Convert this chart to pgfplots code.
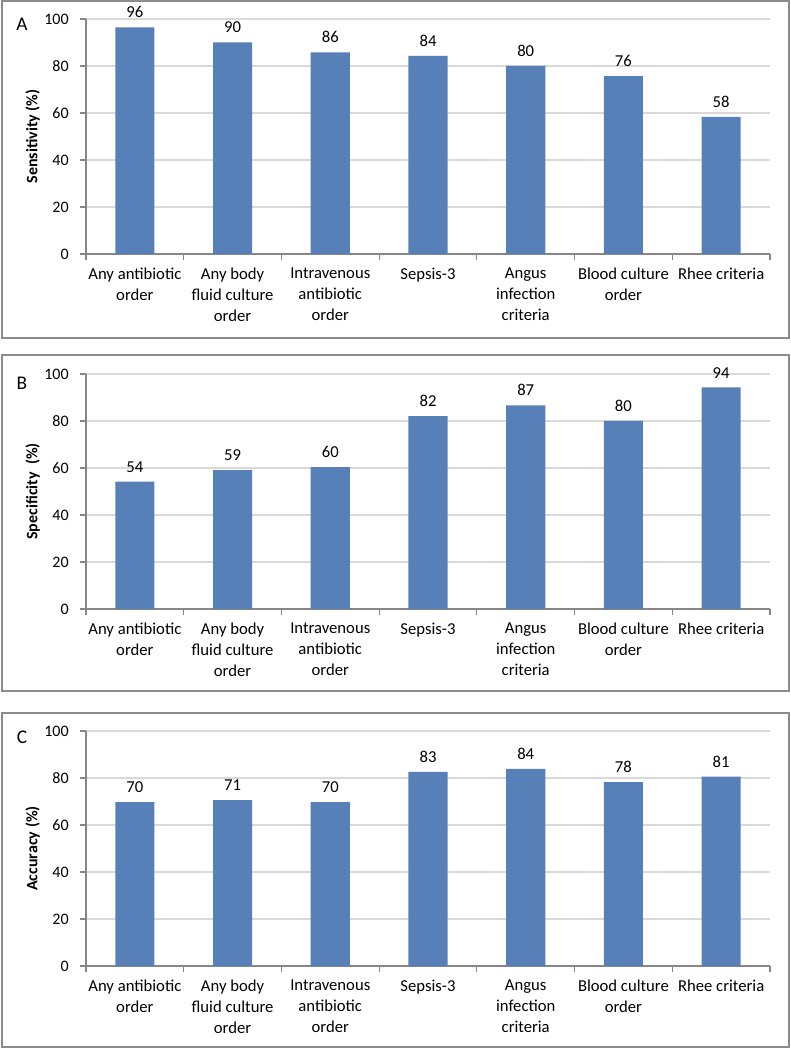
\documentclass[border=0pt]{standalone}
\usepackage{fontspec}
\setmainfont{Carlito}
\usepackage{pgfplots}
\pgfplotsset{compat=1.18}
\definecolor{barblue}{RGB}{88,128,184}
\definecolor{gridgray}{RGB}{217,217,217}
\definecolor{axgray}{RGB}{134,134,134}
\definecolor{boxgray}{RGB}{140,140,140}
\pgfplotsset{
  /pgf/number format/assume math mode=true,
  panel/.style={
    scale only axis, width=513pt, height=176.25pt,
    anchor=south west,
    xmin=-0.5, xmax=6.5, ymin=0, ymax=100,
    ytick={0,20,...,100},
    xtick={-0.5,0.5,...,6.5},
    xticklabels={},
    extra x ticks={0,1,2,3,4,5,6},
    extra x tick labels={{Any antibiotic\\order},{Any body\\fluid culture\\order},{Intravenous\\antibiotic\\order},{Sepsis-3},{Angus\\infection\\criteria},{Blood culture\\order},{Rhee criteria}},
    extra x tick style={major tick length=0pt},
    axis lines*=left,
    axis line style={axgray, line width=0.8pt},
    tick style={axgray, line width=0.8pt},
    tick align=outside,
    major tick length=4.5pt,
    ymajorgrids,
    major grid style={gridgray, line width=0.8pt},
    x tick label style={align=center, font=\fontsize{12.5}{15.75}\selectfont, yshift=-7pt},
    y tick label style={font=\fontsize{12}{14}\selectfont, xshift=-5pt},
    every axis y label/.style={at={(axis description cs:-0.078,0.5)}, rotate=90, anchor=center, font=\fontsize{12}{14}\selectfont\bfseries},
    ybar, bar width=0.4,
    nodes near coords={\pgfmathprintnumber[fixed,precision=0]{\pgfplotspointmeta}},
    nodes near coords style={font=\fontsize{12.5}{14}\selectfont, anchor=south, yshift=3.5pt},
  }
}
\begin{document}
\begin{tikzpicture}
\useasboundingbox (0,0) rectangle (593.25pt,787.5pt);
\draw[boxgray, line width=1pt] (1.5pt,534pt) rectangle (591.75pt,786.75pt);
\draw[boxgray, line width=1pt] (1.5pt,269.25pt) rectangle (591.75pt,521.25pt);
\draw[boxgray, line width=1pt] (1.5pt,2.25pt) rectangle (591.75pt,252.75pt);

\begin{axis}[panel, at={(64.5pt,597pt)}, ylabel={Sensitivity (\%)}]
\addplot[fill=barblue, draw=none] coordinates {(0,96.4) (1,90.1) (2,85.8) (3,84.3) (4,80.0) (5,75.7) (6,58.4)};
\end{axis}
\node[font=\fontsize{14.5}{17}\selectfont] at (16.5pt,769.5pt) {A};

\begin{axis}[panel, at={(64.5pt,330.75pt)}, ylabel={Specificity~~(\%)}]
\addplot[fill=barblue, draw=none] coordinates {(0,54.2) (1,59.1) (2,60.4) (3,82.1) (4,86.6) (5,80.0) (6,94.3)};
\end{axis}
\node[font=\fontsize{14.5}{17}\selectfont] at (16.5pt,500.25pt) {B};

\begin{axis}[panel, at={(64.5pt,63pt)}, ylabel={Accuracy (\%)}]
\addplot[fill=barblue, draw=none] coordinates {(0,69.7) (1,70.6) (2,69.7) (3,82.6) (4,83.9) (5,78.2) (6,80.6)};
\end{axis}
\node[font=\fontsize{14.5}{17}\selectfont] at (16.5pt,234.75pt) {C};
\end{tikzpicture}
\end{document}
